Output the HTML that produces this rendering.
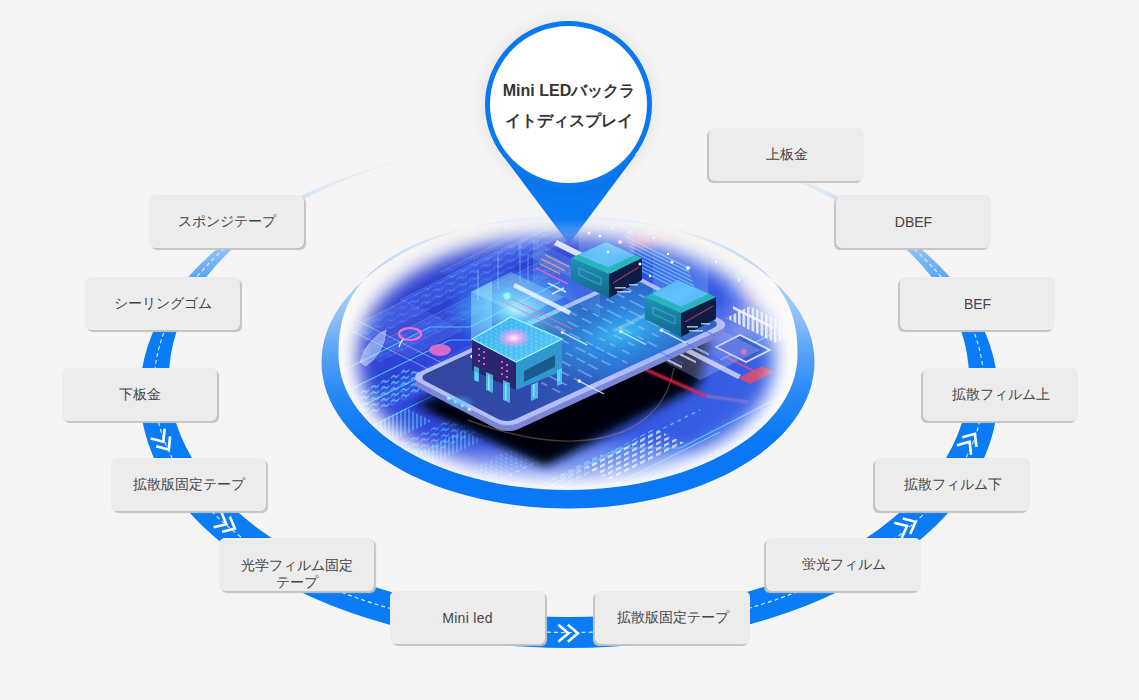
<!DOCTYPE html>
<html><head><meta charset="utf-8">
<style>
html,body{margin:0;padding:0;}
body{width:1139px;height:700px;overflow:hidden;background:#f5f5f5;position:relative;font-family:"Liberation Sans",sans-serif;}
svg.bg{position:absolute;left:0;top:0;}
.b{position:absolute;width:155px;height:53px;background:#ececec;border-radius:6px;box-shadow:2px 2px 1px #c4c4c4;color:#444;font-size:14px;display:flex;align-items:center;justify-content:center;text-align:center;line-height:16px;box-sizing:border-box;padding-bottom:2px;}
.pin{position:absolute;left:485px;top:21px;width:157px;height:157px;border:5px solid #0a78f2;border-radius:50%;background:#fff;box-shadow:0 0 18px rgba(0,0,0,0.09);}
.pt{position:absolute;left:485px;top:76px;width:168px;text-align:center;font-weight:bold;font-size:16px;line-height:30px;color:#333;}
.r{box-shadow:-2px 2px 1px #c4c4c4;}
</style></head><body>
<svg class="bg" width="1139" height="700" viewBox="0 0 1139 700">
<defs>
<linearGradient id="rg" x1="0" y1="140" x2="0" y2="648" gradientUnits="userSpaceOnUse">
<stop offset="0" stop-color="#0a7cf6" stop-opacity="0"/>
<stop offset="0.1" stop-color="#0a7cf6" stop-opacity="0.1"/>
<stop offset="0.22" stop-color="#0a7cf6" stop-opacity="0.45"/>
<stop offset="0.33" stop-color="#0a7cf6" stop-opacity="0.9"/>
<stop offset="0.38" stop-color="#0a7cf6" stop-opacity="1"/>
<stop offset="1" stop-color="#0a7cf6" stop-opacity="1"/>
</linearGradient>
</defs>
<!-- big ring -->
<linearGradient id="dg" x1="0" y1="140" x2="0" y2="648" gradientUnits="userSpaceOnUse">
<stop offset="0.12" stop-color="#fff" stop-opacity="0"/>
<stop offset="0.25" stop-color="#fff" stop-opacity="0.9"/>
</linearGradient>
<radialGradient id="topmask" cx="569" cy="150" r="200" gradientUnits="userSpaceOnUse" gradientTransform="translate(569 150) scale(1 0.45) translate(-569 -150)">
<stop offset="0" stop-color="#f5f5f5" stop-opacity="1"/>
<stop offset="0.55" stop-color="#f5f5f5" stop-opacity="1"/>
<stop offset="0.95" stop-color="#f5f5f5" stop-opacity="0"/>
</radialGradient>
<path fill="url(#rg)" fill-rule="evenodd" d="M140,394 a429,254 0 1,0 858,0 a429,254 0 1,0 -858,0 Z M169,378 a400,239 0 1,0 800,0 a400,239 0 1,0 -800,0 Z"/>
<ellipse cx="569" cy="386" rx="415" ry="246.5" fill="none" stroke="url(#dg)" stroke-width="1.1" stroke-dasharray="4 3"/>
<rect x="300" y="100" width="540" height="120" fill="url(#topmask)"/>
<g stroke="#fff" stroke-width="2.6" fill="none" stroke-linecap="butt" stroke-linejoin="miter">
<path transform="translate(568.4 633.2)" d="M-10,-8.5 L0,0 L-10,8.5 M-0.5,-8.5 L9.5,0 L-0.5,8.5"/>
<path transform="translate(163.4 441.7) rotate(55)" d="M-10,-8.5 L0,0 L-10,8.5 M-0.5,-8.5 L9.5,0 L-0.5,8.5"/>
<path transform="translate(226.4 524.3) rotate(27)" d="M-10,-8.5 L0,0 L-10,8.5 M-0.5,-8.5 L9.5,0 L-0.5,8.5"/>
<path transform="translate(969.6 441.7) rotate(-56)" d="M-10,-8.5 L0,0 L-10,8.5 M-0.5,-8.5 L9.5,0 L-0.5,8.5"/>
<path transform="translate(907 526) rotate(-26)" d="M-10,-8.5 L0,0 L-10,8.5 M-0.5,-8.5 L9.5,0 L-0.5,8.5"/>
</g>

</svg>


<svg class="bg" width="1139" height="700" viewBox="0 0 1139 700">
<defs>
<filter id="fb" x="-30%" y="-30%" width="160%" height="160%"><feGaussianBlur stdDeviation="9"/></filter>
<filter id="bl8" x="-30%" y="-30%" width="160%" height="160%"><feGaussianBlur stdDeviation="8"/></filter>
<filter id="bl5" x="-30%" y="-30%" width="160%" height="160%"><feGaussianBlur stdDeviation="5"/></filter>
<filter id="bl3" x="-30%" y="-30%" width="160%" height="160%"><feGaussianBlur stdDeviation="3"/></filter>
<filter id="bl1" x="-30%" y="-30%" width="160%" height="160%"><feGaussianBlur stdDeviation="1"/></filter>
<mask id="im" maskUnits="userSpaceOnUse" x="300" y="170" width="540" height="370">
<g filter="url(#fb)"><path d="M774.0,359.0 L773.7,366.0 L772.9,372.6 L771.6,379.0 L769.7,385.2 L767.2,391.3 L764.3,397.2 L760.8,403.0 L756.8,408.7 L752.4,414.2 L747.4,419.5 L741.9,424.6 L736.0,429.5 L729.6,434.3 L722.8,438.8 L715.5,443.1 L707.9,447.2 L699.8,451.0 L691.4,454.6 L682.6,457.9 L673.5,461.0 L664.0,463.8 L654.3,466.3 L644.3,468.6 L634.0,470.5 L623.4,472.2 L612.6,473.6 L601.5,474.6 L590.2,475.4 L578.5,475.8 L566.0,476.0 L553.5,475.8 L541.8,475.4 L530.5,474.6 L519.4,473.6 L508.6,472.2 L498.0,470.5 L487.7,468.6 L477.7,466.3 L468.0,463.8 L458.5,461.0 L449.4,457.9 L440.6,454.6 L432.2,451.0 L424.1,447.2 L416.5,443.1 L409.2,438.8 L402.4,434.3 L396.0,429.5 L390.1,424.6 L384.6,419.5 L379.6,414.2 L375.2,408.7 L371.2,403.0 L367.7,397.2 L364.8,391.3 L362.3,385.2 L360.4,379.0 L359.1,372.6 L358.3,366.0 L358.0,359.0 L358.3,351.7 L359.1,344.8 L360.4,338.2 L362.3,331.7 L364.8,325.3 L367.7,319.1 L371.2,313.1 L375.2,307.2 L379.6,301.5 L384.6,296.0 L390.1,290.6 L396.0,285.5 L402.4,280.5 L409.2,275.8 L416.5,271.3 L424.1,267.0 L432.2,263.0 L440.6,259.3 L449.4,255.8 L458.5,252.6 L468.0,249.7 L477.7,247.1 L487.7,244.7 L498.0,242.7 L508.6,241.0 L519.4,239.5 L530.5,238.4 L541.8,237.6 L553.5,237.2 L566.0,237.0 L578.5,237.2 L590.2,237.6 L601.5,238.4 L612.6,239.5 L623.4,241.0 L634.0,242.7 L644.3,244.7 L654.3,247.1 L664.0,249.7 L673.5,252.6 L682.6,255.8 L691.4,259.3 L699.8,263.0 L707.9,267.0 L715.5,271.3 L722.8,275.8 L729.6,280.5 L736.0,285.5 L741.9,290.6 L747.4,296.0 L752.4,301.5 L756.8,307.2 L760.8,313.1 L764.3,319.1 L767.2,325.3 L769.7,331.7 L771.6,338.2 L772.9,344.8 L773.7,351.7 Z" fill="#fff"/></g>
</mask>
<linearGradient id="wdisc" x1="0" y1="226" x2="0" y2="490" gradientUnits="userSpaceOnUse">
<stop offset="0" stop-color="#fff" stop-opacity="0"/>
<stop offset="0.35" stop-color="#fff" stop-opacity="0.6"/>
<stop offset="0.6" stop-color="#fff" stop-opacity="1"/>
</linearGradient>
<linearGradient id="cring" x1="0" y1="216" x2="0" y2="508" gradientUnits="userSpaceOnUse">
<stop offset="0" stop-color="#eaf2fa"/>
<stop offset="0.15" stop-color="#c8dcf8"/>
<stop offset="0.35" stop-color="#8cbef6"/>
<stop offset="0.45" stop-color="#5ea6f6"/>
<stop offset="0.6" stop-color="#2a8af5"/>
<stop offset="0.75" stop-color="#0a78f4"/>
<stop offset="1" stop-color="#0a78f4"/>
</linearGradient>
<linearGradient id="board" x1="340" y1="240" x2="790" y2="480" gradientUnits="userSpaceOnUse">
<stop offset="0" stop-color="#2c3ccc"/>
<stop offset="0.35" stop-color="#3148dc"/>
<stop offset="0.65" stop-color="#3556e2"/>
<stop offset="1" stop-color="#3a66e6"/>
</linearGradient>
<pattern id="wave" width="12" height="7" patternUnits="userSpaceOnUse" patternTransform="matrix(1,-0.5,0,1,0,0)">
<path d="M1,4.5 q2.5,-3 5,0 t5,0" stroke="#6a98ff" stroke-width="1.2" fill="none"/>
</pattern>
<pattern id="wavec" width="10" height="6" patternUnits="userSpaceOnUse" patternTransform="matrix(1,-0.5,0,1,0,0)">
<path d="M1,4 q2,-3 4,0 t4,0" stroke="#5ee8ff" stroke-width="1.3" fill="none"/>
</pattern>
<pattern id="dots" width="5" height="4" patternUnits="userSpaceOnUse" patternTransform="matrix(1,0.5,0,1,0,0)">
<rect x="0" y="0" width="2.5" height="2" fill="#8fe4ff"/>
</pattern>
<pattern id="hatch" width="4" height="4" patternUnits="userSpaceOnUse" patternTransform="matrix(1,-0.5,0,1,0,0)">
<rect x="0" y="0" width="2" height="4" fill="#6fe0ff"/>
</pattern>
<pattern id="txt" width="8" height="5.5" patternUnits="userSpaceOnUse" patternTransform="matrix(1,-0.5,0,1,0,0)">
<rect x="0" y="1" width="5" height="2.4" fill="#eef6ff"/>
</pattern>
<pattern id="stripe" width="4.5" height="10" patternUnits="userSpaceOnUse" patternTransform="matrix(1,0.5,0,1,0,0)">
<rect x="0" y="0" width="2.6" height="10" fill="#f4f6ff"/>
</pattern>
<linearGradient id="screen" x1="0" y1="0.3" x2="1" y2="0.7">
<stop offset="0" stop-color="#34469e"/>
<stop offset="0.35" stop-color="#2f4cae"/>
<stop offset="0.7" stop-color="#2c6cd0"/>
<stop offset="1" stop-color="#3060c0"/>
</linearGradient>
<radialGradient id="scglow" r="0.5"><stop offset="0" stop-color="#38c8f8" stop-opacity="0.85"/><stop offset="0.5" stop-color="#30a8f0" stop-opacity="0.45"/><stop offset="1" stop-color="#30a0f0" stop-opacity="0"/></radialGradient>
<radialGradient id="glowc" r="0.5"><stop offset="0" stop-color="#b0ffff" stop-opacity="0.95"/><stop offset="0.5" stop-color="#50d8ff" stop-opacity="0.5"/><stop offset="1" stop-color="#4cf" stop-opacity="0"/></radialGradient>
<radialGradient id="glowb" r="0.5"><stop offset="0" stop-color="#4fb8ff" stop-opacity="0.7"/><stop offset="1" stop-color="#4fb8ff" stop-opacity="0"/></radialGradient>
<radialGradient id="glowp" r="0.5"><stop offset="0" stop-color="#ff6aa8" stop-opacity="0.95"/><stop offset="1" stop-color="#ff6aa8" stop-opacity="0"/></radialGradient>
<radialGradient id="glowpk" r="0.5"><stop offset="0" stop-color="#fff4ff" stop-opacity="1"/><stop offset="0.45" stop-color="#f8a8f0" stop-opacity="0.85"/><stop offset="1" stop-color="#f8a0f0" stop-opacity="0"/></radialGradient>
<radialGradient id="glowl" r="0.5"><stop offset="0" stop-color="#e8e8ff" stop-opacity="0.8"/><stop offset="1" stop-color="#e8e8ff" stop-opacity="0"/></radialGradient>
<linearGradient id="cleft" x1="0" y1="0" x2="0" y2="1"><stop offset="0" stop-color="#1c94b4"/><stop offset="1" stop-color="#126890"/></linearGradient>
<linearGradient id="cplate" x1="0" y1="0" x2="1" y2="1"><stop offset="0" stop-color="#3aa6f6"/><stop offset="0.5" stop-color="#4cb8fa"/><stop offset="1" stop-color="#3a9cf0"/></linearGradient>
<linearGradient id="gcol" x1="0" y1="1" x2="0" y2="0"><stop offset="0" stop-color="#9fe0ff" stop-opacity="0.9"/><stop offset="1" stop-color="#9fe0ff" stop-opacity="0"/></linearGradient>
<linearGradient id="ctop" x1="0" y1="0" x2="1" y2="1"><stop offset="0" stop-color="#38b0f0"/><stop offset="1" stop-color="#58c8f8"/></linearGradient>
<linearGradient id="ptr" x1="0" y1="155" x2="0" y2="245" gradientUnits="userSpaceOnUse">
<stop offset="0" stop-color="#0a78f2"/><stop offset="0.72" stop-color="#0a78f2"/><stop offset="1" stop-color="#0a78f2" stop-opacity="0.35"/>
</linearGradient>
</defs>
<path d="M798.5,355.0 L798.2,362.1 L797.2,369.2 L795.7,376.3 L793.5,383.3 L790.6,390.2 L787.2,397.0 L783.2,403.7 L778.6,410.3 L773.4,416.7 L767.6,423.0 L761.3,429.1 L754.5,434.9 L747.1,440.6 L739.3,446.0 L731.0,451.2 L722.2,456.1 L713.1,460.7 L703.5,465.0 L693.5,469.1 L683.2,472.8 L672.6,476.2 L661.8,479.2 L650.6,482.0 L639.2,484.3 L627.7,486.4 L615.9,488.0 L604.1,489.3 L592.1,490.3 L580.1,490.8 L568.0,491.0 L555.9,490.8 L543.9,490.3 L531.9,489.3 L520.1,488.0 L508.3,486.4 L496.8,484.3 L485.4,482.0 L474.2,479.2 L463.4,476.2 L452.8,472.8 L442.5,469.1 L432.5,465.0 L422.9,460.7 L413.8,456.1 L405.0,451.2 L396.7,446.0 L388.9,440.6 L381.5,434.9 L374.7,429.1 L368.4,423.0 L362.6,416.7 L357.4,410.3 L352.8,403.7 L348.8,397.0 L345.4,390.2 L342.5,383.3 L340.3,376.3 L338.8,369.2 L337.8,362.1 L337.5,355.0 L337.8,343.4 L338.6,334.3 L339.9,326.0 L341.7,318.3 L344.1,310.9 L346.9,303.9 L350.3,297.2 L354.2,290.7 L358.6,284.6 L363.5,278.7 L368.9,273.0 L374.8,267.7 L381.2,262.5 L388.0,257.7 L395.3,253.1 L403.1,248.8 L411.3,244.8 L420.0,241.0 L429.1,237.5 L438.6,234.4 L448.6,231.5 L459.1,228.9 L470.0,226.6 L481.4,224.6 L493.3,222.9 L505.7,221.5 L518.9,220.4 L532.9,219.6 L548.3,219.2 L568.0,219.0 L587.7,219.2 L603.1,219.6 L617.1,220.4 L630.3,221.5 L642.7,222.9 L654.6,224.6 L666.0,226.6 L676.9,228.9 L687.4,231.5 L697.4,234.4 L706.9,237.5 L716.0,241.0 L724.7,244.8 L732.9,248.8 L740.7,253.1 L748.0,257.7 L754.8,262.5 L761.2,267.7 L767.1,273.0 L772.5,278.7 L777.4,284.6 L781.8,290.7 L785.7,297.2 L789.1,303.9 L791.9,310.9 L794.3,318.3 L796.1,326.0 L797.4,334.3 L798.2,343.4 Z" fill="url(#wdisc)"/>
<g mask="url(#im)">
<rect x="320" y="200" width="500" height="320" fill="url(#board)"/>
<path d="M330,320 L520,215 L640,215 L440,330 Z" fill="#2634c0" opacity="0.25" filter="url(#bl8)"/>
<path d="M345.0,330.0 L545.0,230.0 L567.0,241.0 L367.0,341.0 Z" fill="#4a78f8" opacity="0.22"/>
<path d="M345.0,330.0 L545.0,230.0 L567.0,241.0 L367.0,341.0 Z" fill="url(#wave)" opacity="0.39"/>
<path d="M360.0,352.0 L550.0,257.0 L570.0,267.0 L380.0,362.0 Z" fill="#4a78f8" opacity="0.22"/>
<path d="M360.0,352.0 L550.0,257.0 L570.0,267.0 L380.0,362.0 Z" fill="url(#wave)" opacity="0.35"/>
<path d="M400.0,300.0 L550.0,225.0 L568.0,234.0 L418.0,309.0 Z" fill="#4a78f8" opacity="0.22"/>
<path d="M400.0,300.0 L550.0,225.0 L568.0,234.0 L418.0,309.0 Z" fill="url(#wave)" opacity="0.32"/>
<path d="M440.0,272.0 L570.0,207.0 L586.0,215.0 L456.0,280.0 Z" fill="#4a78f8" opacity="0.22"/>
<path d="M440.0,272.0 L570.0,207.0 L586.0,215.0 L456.0,280.0 Z" fill="url(#wave)" opacity="0.28"/>
<path d="M370.0,395.0 L520.0,320.0 L544.0,332.0 L394.0,407.0 Z" fill="#4a78f8" opacity="0.22"/>
<path d="M370.0,395.0 L520.0,320.0 L544.0,332.0 L394.0,407.0 Z" fill="url(#wave)" opacity="0.35"/>
<g stroke="#6fa8ff" stroke-width="1" fill="none" opacity="0.35">
<path d="M345,330 l200,-100.0"/>
<path d="M367,363 l180,-90.0"/>
<path d="M400,300 l150,-75.0"/>
<path d="M440,272 l130,-65.0"/>
<path d="M360,352 l190,-95.0"/>
</g>
<g stroke="#46dcff" stroke-width="1.2" fill="none" opacity="0.8">
<path d="M340,372 L430,327 L470,327 L560,282"/>
<path d="M345,392 L450,340 L490,340 L540,315"/>
<path d="M350,412 L470,352"/>
<path d="M352,436 L480,372"/>
<path d="M560,478 L620,448 L680,448 L790,392"/>
<path d="M600,492 L720,432"/>
<path d="M720,360 L800,320"/>
</g>
<g stroke="#c8ecff" stroke-width="0.9" fill="none" opacity="0.55"><path d="M352,318 L470,377"/><path d="M350,330 L440,375 L462,364"/></g>
<path d="M352,328 L405,301 L462,330 L409,357 Z" fill="#7fa8ff" opacity="0.15" stroke="#d8ecff" stroke-width="0.8"/>
<path d="M360,362 q6,-22 26,-32 q-1,22 -20,36 z" fill="#cfeaff" opacity="0.5" stroke="#eef8ff" stroke-width="1"/>
<path d="M338.0,402.0 L408.0,367.0 L438.0,382.0 L368.0,417.0 Z" fill="url(#wavec)" opacity="0.8"/>
<path d="M346.0,438.0 L406.0,408.0 L432.0,421.0 L372.0,451.0 Z" fill="url(#hatch)" opacity="0.45"/>
<path d="M392.0,448.0 L462.0,413.0 L488.0,426.0 L418.0,461.0 Z" fill="url(#wavec)" opacity="0.6"/>
<path d="M372.0,475.0 L462.0,430.0 L482.0,440.0 L392.0,485.0 Z" fill="url(#hatch)" opacity="0.4"/>
<path d="M470.0,470.0 L550.0,430.0 L572.0,441.0 L492.0,481.0 Z" fill="url(#dots)" opacity="0.35"/>
<ellipse cx="600" cy="470" rx="120" ry="30" fill="#5a9aff" opacity="0.25" filter="url(#bl8)"/>
<path d="M583.0,466.0 L655.0,428.6 L685.0,443.6 L613.0,481.0 Z" fill="url(#txt)" opacity="0.8"/>
<path d="M540.0,485.0 L600.0,453.8 L614.0,460.8 L554.0,492.0 Z" fill="url(#txt)" opacity="0.35"/>
<g stroke="#5ee0ff" stroke-width="1.4" stroke-dasharray="4 4" opacity="0.7"><path d="M480,490 L600,430"/><path d="M520,500 L700,410"/><path d="M700,460 L790,415"/></g>
<ellipse cx="640" cy="240" rx="26" ry="12" fill="url(#glowp)"/>
<ellipse cx="770" cy="292" rx="34" ry="18" fill="url(#glowp)" opacity="0.85"/>
<ellipse cx="745" cy="330" rx="55" ry="30" fill="url(#glowl)" opacity="0.5"/>
<g fill="#6ad8ff" opacity="0.65">
<path d="M626.0,236.0 l62,31 l0,1.6 l-62,-31z"/>
<path d="M627.5,240.5 l62,31 l0,1.6 l-62,-31z"/>
<path d="M629.0,245.0 l62,31 l0,1.6 l-62,-31z"/>
<path d="M630.5,249.5 l62,31 l0,1.6 l-62,-31z"/>
<path d="M632.0,254.0 l62,31 l0,1.6 l-62,-31z"/>
<path d="M633.5,258.5 l62,31 l0,1.6 l-62,-31z"/>
<path d="M635.0,263.0 l62,31 l0,1.6 l-62,-31z"/>
<path d="M636.5,267.5 l62,31 l0,1.6 l-62,-31z"/>
</g>
<path d="M650,228 l22,10 l-6,4 l-22,-10z" fill="#ff7a8a" opacity="0.65"/>
<path d="M728,276 l26,-12 l10,5 l-26,12z" fill="#3a8ab8" opacity="0.8"/>
<path d="M733,306 l40,20 l0,3 l-40,-20z" fill="#f4f6ff" opacity="0.85"/>
<path d="M726.0,316.0 L726.0,316.0 L726.0,316.0 L726.0,316.0 Z"/>
<path d="M726,318 L776,343 L800,331 L750,306 Z" fill="url(#stripe)" opacity="0.85"/>
<path d="M716,347 L740,335 L770,350 L746,362 Z" fill="#3a5ad0" stroke="#f0f4ff" stroke-width="1.6" opacity="0.85"/>
<path d="M724,356 l36,18" stroke="#ff4a7a" stroke-width="1.6" opacity="0.8"/>
<circle cx="744" cy="352" r="3" fill="#ff5a8a" opacity="0.8"/>
<path d="M738,378 l24,-12 l12,6 l-24,12z" fill="#e04a6a" opacity="0.85"/>
<ellipse cx="790" cy="402" rx="14" ry="9" fill="none" stroke="#ff6a8a" stroke-width="1.5" opacity="0.6"/>
<ellipse cx="560" cy="478" rx="190" ry="34" fill="#dfe8ff" opacity="0.3" filter="url(#bl8)"/>
<path d="M415,405 L545,468 L700,386 L710,340 L600,300 Z" fill="#050b28" opacity="0.95" filter="url(#bl5)"/>
<path d="M428,408 L545,460 L690,384 L700,345 Z" fill="#02050e" filter="url(#bl3)"/>
<path d="M468,420 Q560,455 622,432 Q666,414 674,368" stroke="#d0a070" stroke-width="1.4" fill="none" opacity="0.35"/>
<path d="M612,335 L700,380 L760,350 L672,305 Z" fill="#b8b8ff" opacity="0.3"/>
<g fill="#dce8ff" opacity="0.75">
<path d="M650,350 l8,4 l0,2.2 l-8,-4z M662,344 l10,5 l0,2.2 l-10,-5z M676,337 l9,4.5 l0,2.2 l-9,-4.5z"/>
<path d="M656,353 l8,4 l0,2.2 l-8,-4z M668,347 l10,5 l0,2.2 l-10,-5z M682,340 l9,4.5 l0,2.2 l-9,-4.5z"/>
<path d="M662,356 l8,4 l0,2.2 l-8,-4z M674,350 l10,5 l0,2.2 l-10,-5z M688,343 l9,4.5 l0,2.2 l-9,-4.5z"/>
<path d="M668,359 l8,4 l0,2.2 l-8,-4z M680,353 l10,5 l0,2.2 l-10,-5z M694,346 l9,4.5 l0,2.2 l-9,-4.5z"/>
<path d="M674,362 l8,4 l0,2.2 l-8,-4z M686,356 l10,5 l0,2.2 l-10,-5z M700,349 l9,4.5 l0,2.2 l-9,-4.5z"/>
</g>
<path d="M642,368 L706,396" stroke="#ff2a4a" stroke-width="3" opacity="0.95" filter="url(#bl1)"/>
<path d="M706,396 L748,402" stroke="#ff8aa8" stroke-width="2" opacity="0.5" filter="url(#bl1)"/>
<path d="M653,330 l88,45 l-3,4 l-88,-45z" fill="#eef0ff" opacity="0.7"/>
<g transform="matrix(0.9085,-0.4179,0.8872,0.4613,408.7,383.0)"><rect x="0" y="0" width="247" height="111" rx="12" fill="#7c86d6"/></g>
<g transform="matrix(0.9085,-0.4179,0.8872,0.4613,408.7,377.0)">
<rect x="0" y="0" width="247" height="111" rx="12" fill="#b6befa"/>
<rect x="5" y="5" width="237" height="100" rx="9" fill="url(#screen)"/>
<ellipse cx="175" cy="62" rx="100" ry="55" fill="url(#scglow)"/>
<g fill="#a8c8f8" opacity="0.5">
<rect x="70" y="17" width="2.2" height="10"/>
<rect x="70" y="35" width="2.2" height="11"/>
<rect x="70" y="54" width="2.2" height="16"/>
<rect x="70" y="77" width="2.2" height="6"/>
<rect x="70" y="89" width="2.2" height="9"/>
<rect x="82" y="8" width="2.2" height="8"/>
<rect x="82" y="19" width="2.2" height="11"/>
<rect x="82" y="36" width="2.2" height="9"/>
<rect x="82" y="51" width="2.2" height="14"/>
<rect x="82" y="68" width="2.2" height="15"/>
<rect x="82" y="87" width="2.2" height="6"/>
<rect x="94" y="11" width="2.2" height="12"/>
<rect x="94" y="28" width="2.2" height="8"/>
<rect x="94" y="42" width="2.2" height="8"/>
<rect x="94" y="53" width="2.2" height="8"/>
<rect x="94" y="68" width="2.2" height="15"/>
<rect x="94" y="89" width="2.2" height="8"/>
<rect x="106" y="8" width="2.2" height="6"/>
<rect x="106" y="18" width="2.2" height="9"/>
<rect x="106" y="31" width="2.2" height="8"/>
<rect x="106" y="44" width="2.2" height="11"/>
<rect x="106" y="59" width="2.2" height="14"/>
<rect x="106" y="81" width="2.2" height="16"/>
<rect x="118" y="10" width="2.2" height="9"/>
<rect x="118" y="25" width="2.2" height="10"/>
<rect x="118" y="38" width="2.2" height="11"/>
<rect x="118" y="55" width="2.2" height="8"/>
<rect x="118" y="67" width="2.2" height="10"/>
<rect x="118" y="80" width="2.2" height="11"/>
<rect x="130" y="17" width="2.2" height="6"/>
<rect x="130" y="30" width="2.2" height="16"/>
<rect x="130" y="54" width="2.2" height="11"/>
<rect x="130" y="68" width="2.2" height="10"/>
<rect x="130" y="83" width="2.2" height="10"/>
<rect x="142" y="19" width="2.2" height="11"/>
<rect x="142" y="34" width="2.2" height="13"/>
<rect x="142" y="53" width="2.2" height="8"/>
<rect x="142" y="64" width="2.2" height="10"/>
<rect x="142" y="77" width="2.2" height="11"/>
<rect x="142" y="94" width="2.2" height="6"/>
<rect x="154" y="20" width="2.2" height="12"/>
<rect x="154" y="37" width="2.2" height="12"/>
<rect x="154" y="56" width="2.2" height="6"/>
<rect x="154" y="68" width="2.2" height="6"/>
<rect x="154" y="82" width="2.2" height="8"/>
<rect x="166" y="9" width="2.2" height="9"/>
<rect x="166" y="24" width="2.2" height="11"/>
<rect x="166" y="42" width="2.2" height="11"/>
<rect x="166" y="60" width="2.2" height="10"/>
<rect x="166" y="76" width="2.2" height="7"/>
<rect x="178" y="12" width="2.2" height="6"/>
<rect x="178" y="24" width="2.2" height="7"/>
<rect x="178" y="35" width="2.2" height="11"/>
<rect x="178" y="53" width="2.2" height="15"/>
<rect x="178" y="73" width="2.2" height="8"/>
<rect x="178" y="86" width="2.2" height="10"/>
<rect x="190" y="16" width="2.2" height="7"/>
<rect x="190" y="28" width="2.2" height="16"/>
<rect x="190" y="49" width="2.2" height="10"/>
<rect x="190" y="63" width="2.2" height="7"/>
<rect x="190" y="78" width="2.2" height="8"/>
<rect x="202" y="15" width="2.2" height="8"/>
<rect x="202" y="31" width="2.2" height="6"/>
<rect x="202" y="40" width="2.2" height="15"/>
<rect x="202" y="62" width="2.2" height="12"/>
<rect x="202" y="77" width="2.2" height="9"/>
<rect x="214" y="13" width="2.2" height="10"/>
<rect x="214" y="29" width="2.2" height="16"/>
<rect x="214" y="51" width="2.2" height="8"/>
<rect x="214" y="62" width="2.2" height="16"/>
<rect x="214" y="81" width="2.2" height="13"/>
<rect x="226" y="11" width="2.2" height="8"/>
<rect x="226" y="27" width="2.2" height="15"/>
<rect x="226" y="46" width="2.2" height="16"/>
<rect x="226" y="68" width="2.2" height="7"/>
<rect x="226" y="79" width="2.2" height="12"/>
</g>
</g>
<g stroke="#e0f8ff" stroke-width="1.3" opacity="0.85">
<path d="M472.1,356.5 L496.9,369.5"/>
<path d="M562.5,332.3 L587.3,345.2"/>
<path d="M620.9,331.5 L645.8,344.5"/>
<path d="M661.4,330.3 L686.2,343.2"/>
<path d="M653.0,303.7 L677.9,316.6"/>
<path d="M579.3,381.1 L604.1,394.0"/>
</g>
<g fill="#f4fcff">
<circle cx="472.1" cy="356.5" r="1.8"/>
<circle cx="562.5" cy="332.3" r="1.8"/>
<circle cx="620.9" cy="331.5" r="1.8"/>
<circle cx="661.4" cy="330.3" r="1.8"/>
<circle cx="653.0" cy="303.7" r="1.8"/>
<circle cx="579.3" cy="381.1" r="1.8"/>
</g>
<g stroke="#2a6aff" stroke-width="1.2" opacity="0.55">
<path d="M587.3,345.2 L624.6,364.6"/>
<path d="M645.8,344.5 L683.0,363.8"/>
<path d="M686.2,343.2 L723.5,362.6"/>
<path d="M677.9,316.6 L715.1,336.0"/>
</g>
<g fill="#7fd8ff"><circle cx="449" cy="398" r="2.4"/><circle cx="455.5" cy="401.5" r="2.4"/><circle cx="462.5" cy="405" r="2.4"/><circle cx="469.5" cy="409" r="2.4"/></g>
<g fill="#fff" opacity="0.9"><circle cx="449" cy="398" r="1"/><circle cx="455.5" cy="401.5" r="1"/><circle cx="462.5" cy="405" r="1"/><circle cx="469.5" cy="409" r="1"/></g>
<ellipse cx="460" cy="402" rx="16" ry="8" fill="url(#glowb)" opacity="0.8"/>
<path d="M557,240 l70,35 l-3,5 l-70,-35z" fill="#eef0ff" opacity="0.9"/>
<path d="M540,250 l42,21 l-12,6 l-42,-21z" fill="#5a70d8" opacity="0.6"/>
<g fill="#ff9a6a" opacity="0.8"><path d="M545,254 l24,12 l0,1.5 l-24,-12z"/><path d="M541,258 l24,12 l0,1.5 l-24,-12z"/><path d="M540,263 l20,10 l0,1.5 l-20,-10z"/></g>
<path d="M536,268 l32,16" stroke="#ff4ac8" stroke-width="1.6" opacity="0.85"/>
<path d="M612,330 l72,-36 l4,2 l-72,36z" fill="#d8e4ff" opacity="0.3"/>
<ellipse cx="515" cy="310" rx="70" ry="42" fill="url(#glowc)" opacity="1"/>
<path d="M471,339 L471,292 L492,281 L492,328 Z" fill="#9af0ff" opacity="0.42"/>
<path d="M471,292 L511,272 L564,297 L524,317 Z" fill="#b0f4ff" opacity="0.32"/>
<path d="M533,282 L533,240 L600,273 L600,315 Z" fill="#8ae8ff" opacity="0.16"/>
<g stroke="#9ef4ff" stroke-width="1" opacity="0.45"><path d="M478,300 v-30 M498,290 v-35 M520,282 v-40 M528,284 v-30"/></g>
<path d="M515,283 l56,28 l-2,4 l-56,-28z" fill="#f0f4ff" opacity="0.85"/>
<g stroke="#ff6aa8" stroke-width="1.1" opacity="0.7"><path d="M508,297 l64,32"/><path d="M502,301 l64,32"/></g>
<g stroke="#e8ffff" stroke-width="1.4" opacity="0.85"><path d="M548,283 l18,9 M552,294 l12,-6"/></g>
<circle cx="507" cy="296" r="3.5" fill="#f0ffff" opacity="0.95"/>
<ellipse cx="507" cy="296" rx="10" ry="7" fill="url(#glowc)"/>
<g fill="#4ee0ff" opacity="0.75"><rect x="475" y="365" width="3" height="16"/><rect x="557" y="365" width="3" height="16"/></g>
<path d="M472,339 L516,362 L516,390 L472,370 Z" fill="#2a2670"/>
<path d="M516,362 L562,339 L562,371 L516,390 Z" fill="#3098cc"/>
<path d="M524,371 L555,355 L555,367 L524,382 Z" fill="#1b5a90"/>
<path d="M472,339 L511,317 L562,339 L516,362 Z" fill="url(#ctop)"/>
<path d="M472,339 L511,317 L562,339 L516,362 Z" fill="url(#dots)" opacity="0.35"/>
<path d="M472,339 L511,317 L562,339 L516,362 Z" fill="none" stroke="#9ef8ff" stroke-width="1.3"/>
<g fill="#ff48d0"><rect x="478" y="348" width="2" height="2"/><rect x="478" y="354" width="2" height="2"/><rect x="478" y="360" width="2" height="2"/><rect x="483" y="351" width="2" height="2"/><rect x="483" y="357" width="2" height="2"/><rect x="483" y="363" width="2" height="2"/><rect x="501" y="361" width="2" height="2"/><rect x="501" y="367" width="2" height="2"/><rect x="501" y="373" width="2" height="2"/><rect x="506" y="364" width="2" height="2"/><rect x="506" y="370" width="2" height="2"/><rect x="506" y="376" width="2" height="2"/></g>
<ellipse cx="514" cy="338" rx="17" ry="10" fill="url(#glowpk)"/>
<g fill="#5ae4ff" opacity="0.7"><path d="M486,372 l7,3 l0,18 l-7,-3z"/><path d="M503,380 l7,3 l0,20 l-7,-3z"/><path d="M531,385 l7,-3 l0,16 l-7,3z"/><path d="M557,370 l5,-2 l0,16 l-5,2z"/><path d="M474,366 l5,2 l0,14 l-5,-2z"/></g>
<g fill="#c8fbff" opacity="0.6"><rect x="488" y="375" width="1.5" height="15"/><rect x="505" y="383" width="1.5" height="17"/><rect x="533" y="384" width="1.5" height="13"/></g>
<path d="M571.0,258.0 L609.0,274.0 L609.0,298.0 L571.0,280.0 Z" fill="url(#cleft)"/>
<path d="M609.0,274.0 L642.0,258.0 L642.0,280.0 L609.0,298.0 Z" fill="#0e1d46"/>
<path d="M571.0,258.0 L606.0,242.0 L642.0,258.0 L609.0,274.0 Z" fill="#27b4bc"/>
<path d="M578.8,255.0 L606.1,242.5 L634.2,255.0 L608.5,267.5 Z" fill="url(#cplate)"/>
<path d="M578.8,255.0 L578.8,207.0 L606.1,194.5 L634.2,207.0 L634.2,255.0 L608.5,267.5 Z" fill="url(#gcol)" opacity="0.35"/>
<path d="M613,283 L639,267" stroke="#c83a5a" stroke-width="1.2" opacity="0.8"/>
<g fill="#dfefff" opacity="0.7"><rect x="615" y="287" width="11" height="1.6"/><rect x="617" y="291" width="14" height="1.6"/><rect x="629" y="284" width="9" height="1.6"/></g>
<path d="M579,268 l22,10 l0,7 l-22,-10z" fill="none" stroke="#6fd0e8" stroke-width="0.8" opacity="0.6"/>
<path d="M645.0,297.0 L681.0,313.0 L681.0,337.0 L645.0,319.0 Z" fill="url(#cleft)"/>
<path d="M681.0,313.0 L716.0,297.0 L716.0,319.0 L681.0,337.0 Z" fill="#0e1d46"/>
<path d="M645.0,297.0 L678.0,280.0 L716.0,297.0 L681.0,313.0 Z" fill="#27b4bc"/>
<path d="M652.8,293.9 L678.5,280.6 L708.2,293.9 L680.9,306.4 Z" fill="url(#cplate)"/>
<path d="M652.8,293.9 L652.8,245.9 L678.5,232.6 L708.2,245.9 L708.2,293.9 L680.9,306.4 Z" fill="url(#gcol)" opacity="0.35"/>
<path d="M685,322 L713,306" stroke="#c83a5a" stroke-width="1.2" opacity="0.8"/>
<g fill="#dfefff" opacity="0.7"><rect x="687" y="326" width="11" height="1.6"/><rect x="689" y="330" width="14" height="1.6"/><rect x="701" y="323" width="9" height="1.6"/></g>
<path d="M653,307 l22,10 l0,7 l-22,-10z" fill="none" stroke="#6fd0e8" stroke-width="0.8" opacity="0.6"/>
<g fill="#f0fcff"><circle cx="608" cy="252" r="1.4"/><circle cx="600" cy="236" r="1.3"/><circle cx="620" cy="242" r="1.8"/><circle cx="640" cy="264" r="1.5"/><circle cx="672" cy="262" r="1.6"/><circle cx="688" cy="268" r="2"/><circle cx="700" cy="241" r="1.3"/><circle cx="654" cy="238" r="1.3"/><circle cx="589" cy="233" r="1.5"/><circle cx="650" cy="276" r="1.2"/><circle cx="668" cy="254" r="1.2"/><circle cx="716" cy="262" r="1.2"/><circle cx="739" cy="280" r="1.2"/><circle cx="612" cy="228" r="1.2"/><circle cx="630" cy="232" r="1.4"/></g>
<ellipse cx="410" cy="334" rx="11" ry="6" fill="none" stroke="#ff6ad0" stroke-width="2.2"/>
<path d="M403,339 q-3,4 -4,8" stroke="#f0f4ff" stroke-width="1.2" fill="none"/>
<ellipse cx="440" cy="350" rx="11" ry="6" fill="#f070c8" opacity="0.85"/>
<ellipse cx="765" cy="300" rx="45" ry="32" fill="url(#glowl)" opacity="0.6"/>
</g>
<path fill="url(#cring)" fill-rule="evenodd" d="M814.5,362.0 L814.2,369.7 L813.1,377.3 L811.5,384.9 L809.1,392.5 L806.1,399.9 L802.4,407.3 L798.1,414.5 L793.2,421.6 L787.6,428.5 L781.5,435.2 L774.7,441.8 L767.4,448.1 L759.6,454.2 L751.2,460.0 L742.3,465.6 L732.9,470.9 L723.1,475.9 L712.9,480.5 L702.3,484.9 L691.2,488.9 L679.9,492.5 L668.3,495.8 L656.3,498.8 L644.2,501.3 L631.8,503.5 L619.3,505.3 L606.6,506.7 L593.8,507.7 L580.9,508.3 L568.0,508.5 L555.1,508.3 L542.2,507.7 L529.4,506.7 L516.7,505.3 L504.2,503.5 L491.8,501.3 L479.7,498.8 L467.7,495.8 L456.1,492.5 L444.8,488.9 L433.7,484.9 L423.1,480.5 L412.9,475.9 L403.1,470.9 L393.7,465.6 L384.8,460.0 L376.4,454.2 L368.6,448.1 L361.3,441.8 L354.5,435.2 L348.4,428.5 L342.8,421.6 L337.9,414.5 L333.6,407.3 L329.9,399.9 L326.9,392.5 L324.5,384.9 L322.9,377.3 L321.8,369.7 L321.5,362.0 L321.8,354.3 L322.9,346.7 L324.5,339.1 L326.9,331.5 L329.9,324.1 L333.6,316.7 L337.9,309.5 L342.8,302.4 L348.4,295.5 L354.5,288.8 L361.3,282.2 L368.6,275.9 L376.4,269.8 L384.8,264.0 L393.7,258.4 L403.1,253.1 L412.9,248.1 L423.1,243.5 L433.7,239.1 L444.7,235.1 L456.1,231.5 L467.7,228.2 L479.7,225.2 L491.8,222.7 L504.2,220.5 L516.7,218.7 L529.4,217.3 L542.2,216.3 L555.1,215.7 L568.0,215.5 L580.9,215.7 L593.8,216.3 L606.6,217.3 L619.3,218.7 L631.8,220.5 L644.2,222.7 L656.3,225.2 L668.3,228.2 L679.9,231.5 L691.2,235.1 L702.3,239.1 L712.9,243.5 L723.1,248.1 L732.9,253.1 L742.3,258.4 L751.2,264.0 L759.6,269.8 L767.4,275.9 L774.7,282.2 L781.5,288.8 L787.6,295.5 L793.2,302.4 L798.1,309.5 L802.4,316.7 L806.1,324.1 L809.1,331.5 L811.5,339.1 L813.1,346.7 L814.2,354.3 Z M797.5,355.0 L797.2,362.1 L796.2,369.1 L794.7,376.1 L792.5,383.1 L789.7,389.9 L786.3,396.7 L782.3,403.4 L777.7,409.9 L772.5,416.3 L766.8,422.5 L760.5,428.5 L753.7,434.4 L746.4,440.0 L738.6,445.3 L730.3,450.5 L721.6,455.3 L712.4,459.9 L702.9,464.2 L693.0,468.2 L682.8,471.9 L672.2,475.3 L661.3,478.3 L650.2,481.0 L638.9,483.4 L627.4,485.4 L615.7,487.0 L603.9,488.3 L592.0,489.3 L580.0,489.8 L568.0,490.0 L556.0,489.8 L544.0,489.3 L532.1,488.3 L520.3,487.0 L508.6,485.4 L497.1,483.4 L485.8,481.0 L474.7,478.3 L463.8,475.3 L453.3,471.9 L443.0,468.2 L433.1,464.2 L423.6,459.9 L414.4,455.3 L405.7,450.5 L397.4,445.3 L389.6,440.0 L382.3,434.4 L375.5,428.5 L369.2,422.5 L363.5,416.3 L358.3,409.9 L353.7,403.4 L349.7,396.7 L346.3,389.9 L343.5,383.1 L341.3,376.1 L339.8,369.1 L338.8,362.1 L338.5,355.0 L338.8,343.4 L339.5,334.4 L340.9,326.2 L342.7,318.5 L345.0,311.2 L347.9,304.3 L351.3,297.6 L355.2,291.2 L359.5,285.1 L364.4,279.2 L369.8,273.6 L375.7,268.3 L382.0,263.2 L388.8,258.4 L396.1,253.9 L403.8,249.6 L412.0,245.6 L420.6,241.9 L429.7,238.4 L439.2,235.2 L449.2,232.4 L459.6,229.8 L470.4,227.5 L481.7,225.5 L493.6,223.8 L506.0,222.5 L519.1,221.4 L533.0,220.6 L548.4,220.2 L568.0,220.0 L587.6,220.2 L603.0,220.6 L616.9,221.4 L630.0,222.5 L642.4,223.8 L654.3,225.5 L665.6,227.5 L676.4,229.8 L686.8,232.4 L696.8,235.2 L706.3,238.4 L715.4,241.9 L724.0,245.6 L732.2,249.6 L739.9,253.9 L747.2,258.4 L754.0,263.2 L760.3,268.3 L766.2,273.6 L771.6,279.2 L776.5,285.1 L780.8,291.2 L784.7,297.6 L788.1,304.3 L791.0,311.2 L793.3,318.5 L795.1,326.2 L796.5,334.4 L797.2,343.4 Z"/>
<path d="M502.4,155 L569,244 L635.6,155 Z" fill="url(#ptr)"/>
</svg>

<div class="b" style="left:149px;top:195px">スポンジテープ</div>
<div class="b" style="left:85px;top:277px">シーリングゴム</div>
<div class="b" style="left:62px;top:368px">下板金</div>
<div class="b" style="left:111px;top:458px">拡散版固定テープ</div>
<div class="b" style="left:219px;top:538px;padding-top:18px;padding-bottom:0;line-height:16.5px">光学フィルム固定<br>テープ</div>
<div class="b" style="left:390px;top:591px;padding-bottom:0;padding-top:1px;letter-spacing:0.3px">Mini led</div>
<div class="b r" style="left:595px;top:591px">拡散版固定テープ</div>
<div class="b r" style="left:766px;top:538px">蛍光フィルム</div>
<div class="b r" style="left:875px;top:458px">拡散フィルム下</div>
<div class="b r" style="left:923px;top:368px">拡散フィルム上</div>
<div class="b r" style="left:900px;top:277px;padding-bottom:0;padding-top:1px">BEF</div>
<div class="b r" style="left:836px;top:195px;padding-bottom:0;padding-top:1px">DBEF</div>
<div class="b r" style="left:709px;top:128px">上板金</div>

<div class="pin"></div>
<div class="pt">Mini LEDバックラ<br>イトディスプレイ</div>
</body></html>
